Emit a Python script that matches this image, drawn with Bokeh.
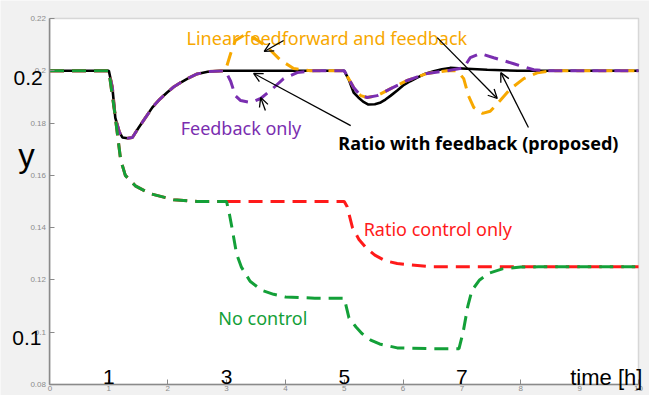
import math
from bokeh.plotting import figure
from bokeh.models import Range1d, FixedTicker, Label, Arrow, OpenHead, BoxAnnotation
from bokeh.embed import file_html
from bokeh.resources import INLINE

# ---- data ----
t_black = [0, 1.0, 1.06, 1.11, 1.18, 1.23, 1.32, 1.4, 1.5, 1.62, 1.74, 1.86, 1.99, 2.1, 2.22, 2.36, 2.5, 2.7, 2.9, 3.5, 4.5, 5.0,
           5.08, 5.16, 5.24, 5.32, 5.41, 5.52, 5.62, 5.7, 5.79, 5.9, 6.0, 6.12, 6.24, 6.38, 6.52, 6.66, 6.8, 7.09, 7.43, 7.95, 9.0, 10]
y_black = [0.2, 0.2, 0.1936, 0.182, 0.1765, 0.1745, 0.1742, 0.1745, 0.178, 0.182, 0.186, 0.189, 0.1917, 0.1938, 0.1955, 0.1973, 0.1988, 0.1997, 0.2, 0.2, 0.2, 0.2,
           0.1965, 0.1917, 0.1898, 0.1882, 0.1871, 0.1872, 0.1879, 0.189, 0.1905, 0.1925, 0.1944, 0.196, 0.1974, 0.1989, 0.1998, 0.2006, 0.2011, 0.2008, 0.2004, 0.2, 0.2, 0.2]

t_purple = [0, 1.0, 1.06, 1.11, 1.18, 1.23, 1.32, 1.4, 1.5, 1.62, 1.74, 1.86, 1.99, 2.1, 2.22, 2.36, 2.5, 2.7, 2.98,
            3.07, 3.15, 3.24, 3.41, 3.58, 3.75, 3.97, 4.2, 4.48, 5.0,
            5.08, 5.16, 5.28, 5.39, 5.56, 5.79, 6.07, 6.41, 6.75, 7.03, 7.14, 7.31, 7.54, 7.88, 8.22, 8.5, 10]
y_purple = [0.2, 0.2, 0.1936, 0.182, 0.1765, 0.1745, 0.1742, 0.1745, 0.178, 0.182, 0.186, 0.189, 0.1917, 0.1938, 0.1955, 0.1973, 0.1988, 0.1997, 0.2,
            0.196, 0.1905, 0.1886, 0.1879, 0.1894, 0.1925, 0.197, 0.1993, 0.2, 0.2,
            0.1968, 0.1936, 0.1905, 0.1898, 0.1905, 0.1932, 0.1963, 0.199, 0.2, 0.2011, 0.205, 0.2066, 0.205, 0.2027, 0.2004, 0.2, 0.2]

t_orange = [0, 1.0, 1.06, 1.11, 1.18, 1.23, 1.32, 1.4, 1.5, 1.62, 1.74, 1.86, 1.99, 2.1, 2.22, 2.36, 2.5, 2.7, 2.98,
            3.07, 3.15, 3.29, 3.46, 3.7, 3.92, 4.14, 4.43, 5.0,
            5.08, 5.16, 5.28, 5.39, 5.56, 5.79, 6.07, 6.41, 6.75, 6.92,
            7.03, 7.11, 7.2, 7.35, 7.48, 7.65, 7.82, 8.05, 8.28, 8.5, 10]
y_orange = [0.2, 0.2, 0.1936, 0.182, 0.1765, 0.1745, 0.1742, 0.1745, 0.178, 0.182, 0.186, 0.189, 0.1917, 0.1938, 0.1955, 0.1973, 0.1988, 0.1997, 0.2,
            0.2066, 0.2116, 0.2135, 0.2127, 0.2089, 0.204, 0.2009, 0.2, 0.2,
            0.1968, 0.1936, 0.1905, 0.1898, 0.1905, 0.1932, 0.1963, 0.199, 0.2, 0.2,
            0.197, 0.1905, 0.186, 0.1837, 0.1845, 0.1886, 0.193, 0.197, 0.1992, 0.2, 0.2]

t_red = [0, 1.0, 1.05, 1.1, 1.15, 1.2, 1.28, 1.45, 1.7, 2.1, 2.5, 3.0, 5.0, 5.05, 5.14, 5.25, 5.37, 5.52, 5.7, 5.9, 6.1, 6.5, 10]
y_red = [0.2, 0.2, 0.192, 0.184, 0.175, 0.166, 0.16, 0.156, 0.153, 0.1507, 0.15, 0.15, 0.15, 0.148, 0.14, 0.1355, 0.1323, 0.1295, 0.1273, 0.1263, 0.1258, 0.125, 0.125]

t_green = [0, 1.0, 1.05, 1.1, 1.15, 1.2, 1.28, 1.45, 1.7, 2.1, 2.5, 3.0, 3.05, 3.1, 3.17, 3.25, 3.4, 3.6, 3.8, 4.0, 4.5, 5.0,
           5.08, 5.2, 5.3, 5.45, 5.6, 5.9, 6.5, 6.95, 7.02, 7.1, 7.17, 7.3, 7.45, 7.7, 8.0, 8.3, 10]
y_green = [0.2, 0.2, 0.192, 0.184, 0.175, 0.166, 0.16, 0.156, 0.153, 0.1507, 0.15, 0.15, 0.145, 0.139, 0.13, 0.125, 0.1195, 0.116, 0.1145, 0.1135, 0.113, 0.113,
           0.1055, 0.102, 0.0995, 0.097, 0.0955, 0.094, 0.0937, 0.0937, 0.1, 0.11, 0.116, 0.12, 0.1225, 0.1243, 0.1249, 0.125, 0.125]

x_ticks = [0, 1, 2, 3, 4, 5, 6, 7, 8, 9, 10]
y_ticks = [0.08, 0.1, 0.12, 0.14, 0.16, 0.18, 0.2, 0.22]
y_tick_labels = ["0.08", "0.1", "0.12", "0.14", "0.16", "0.18", "0.2", "0.22"]
big_x_labels = ["1", "3", "5", "7"]
big_x_pos = [1, 3, 5, 7]

X_MIN, X_MAX = 0, 10
Y_MIN, Y_MAX = 0.08, 0.22

C_ORANGE = "#F7A800"
C_PURPLE = "#7A2EB0"
C_RED = "#FF1A1A"
C_GREEN = "#13A038"
GRID = "#8a8a8a"

W, H = 649, 395
XR = (-0.841, 10.187)
YR = (0.07579, 0.22689)

# the frame fills the page; the axes sit at the data box's edges
p = figure(width=W, height=H, output_backend="svg", toolbar_location=None,
           x_range=Range1d(*XR), y_range=Range1d(*YR),
           min_border=0, background_fill_color="#f1f1f1", border_fill_color="#f1f1f1",
           outline_line_color=None)
p.xgrid.visible = False
p.ygrid.visible = False

p.add_layout(BoxAnnotation(left=X_MIN, right=X_MAX, bottom=Y_MIN, top=Y_MAX, fill_color="white", fill_alpha=1,
                           line_color=GRID, line_width=1.5, level="underlay"))

xa, ya = p.xaxis[0], p.yaxis[0]
xa.fixed_location = Y_MIN
ya.fixed_location = X_MIN
xa.bounds = (X_MIN, X_MAX)
ya.bounds = (Y_MIN, Y_MAX)
for ax in (xa, ya):
    ax.axis_line_color = GRID
    ax.axis_line_width = 1.5
    ax.major_tick_in = 5
    ax.major_tick_out = 0
    ax.minor_tick_in = 0
    ax.minor_tick_out = 0
    ax.major_tick_line_color = GRID
    ax.major_label_text_color = "#8c8c8c"
    ax.major_label_text_font_size = "8px"
    ax.major_label_text_font = "Liberation Sans"
xa.ticker = FixedTicker(ticks=x_ticks)
xa.major_label_standoff = 2
ya.ticker = FixedTicker(ticks=y_ticks)
ya.major_label_overrides = {v: s for v, s in zip(y_ticks, y_tick_labels)}
ya.major_label_standoff = 4

# dash phase: the red curve after t=3 is drawn as its own piece, phased against the green one
DASH = "14 8"
PERIOD = 22
sx = W / (XR[1] - XR[0])
sy = H / (YR[1] - YR[0])

def path_len(ts, ys):
    return sum(math.hypot((ts[i + 1] - ts[i]) * sx, (ys[i + 1] - ys[i]) * sy) for i in range(len(ts) - 1))

k = t_red.index(3.0)
red_offset = (path_len(t_green, y_green) - path_len(t_red[k:], y_red[k:]) + PERIOD / 2) % PERIOD

p.line(t_black, y_black, line_color="black", line_width=2.6)
p.line(t_orange, y_orange, line_color=C_ORANGE, line_width=3, line_dash=DASH)
p.line(t_purple, y_purple, line_color=C_PURPLE, line_width=3, line_dash=DASH)
p.line(t_red[:k + 1], y_red[:k + 1], line_color=C_RED, line_width=3, line_dash=DASH)
p.line(t_red[k:], y_red[k:], line_color=C_RED, line_width=3, line_dash=DASH, line_dash_offset=int(round(red_offset)))
p.line(t_green, y_green, line_color=C_GREEN, line_width=3, line_dash=DASH)

# annotations
def lab(x, y, text, color="black", size="18px", font="Noto Sans", style="normal", align="left"):
    p.add_layout(Label(x=x, y=y, text=text, text_color=color, text_font_size=size,
                       text_font=font, text_font_style=style, text_align=align,
                       text_baseline="alphabetic"))

lab(2.32, 0.2127, "Linear feedforward and feedback", C_ORANGE, "18px")
lab(2.22, 0.1783, "Feedback only", C_PURPLE, "18px")
lab(4.90, 0.1722, "Ratio with feedback (proposed)", "black", "18px", style="bold")
lab(5.33, 0.1393, "Ratio control only", C_RED, "18px")
lab(2.86, 0.1056, "No control", C_GREEN, "18px")

lab(-0.62, 0.1974, "0.2", "black", "21px", font="Liberation Sans")
lab(-0.64, 0.0976, "0.1", "black", "21px", font="Liberation Sans")
lab(-0.54, 0.1676, "y", "black", "33px", font="Liberation Sans")
for xp, s in zip(big_x_pos, big_x_labels):
    lab(xp, 0.0827, s, "black", "21px", font="Liberation Sans", align="center")
lab(8.84, 0.0827, "time [h]", "black", "22px", font="Liberation Sans")

arrows = [
    (3.97, 0.2116, 3.64, 0.2074),
    (6.58, 0.2127, 7.60, 0.1894),
    (5.11, 0.1790, 3.46, 0.1990),
    (8.13, 0.1783, 7.66, 0.1993),
    (3.66, 0.1848, 3.58, 0.1898),
]
for xs, ys, xe, ye in arrows:
    p.add_layout(Arrow(x_start=xs, y_start=ys, x_end=xe, y_end=ye, line_color="black", line_width=1.3,
                       end=OpenHead(size=9, line_color="black", line_width=1.3)))

open("out.html", "w").write(file_html(p, INLINE))
